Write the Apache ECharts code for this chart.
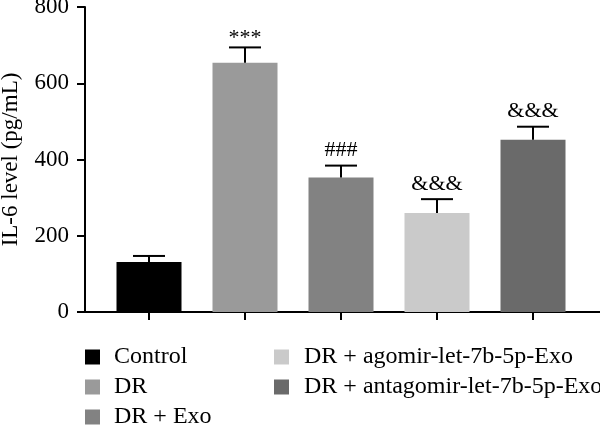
<!DOCTYPE html>
<html>
<head>
<meta charset="utf-8">
<title>IL-6 level</title>
<script type="text/javascript" src="https://cdn.jsdelivr.net/npm/echarts@6/dist/echarts.min.js"></script>
<style>
  html, body { margin: 0; padding: 0; background: #fff; }
</style>
</head>
<body>
<div id="main" style="width: 600px; height: 425px;"></div>
<script type="text/javascript">
// groups, mean values, upper error values, significance marks
var groups = ['Control', 'DR', 'DR + Exo', 'DR + agomir-let-7b-5p-Exo', 'DR + antagomir-let-7b-5p-Exo'];
var means = [131, 654, 353, 260, 452];
var uppers = [147, 694, 384, 296, 486];
var marks = ['', '***', '###', '&&&', '&&&'];
var colors = ['#000000', '#9a9a9a', '#828282', '#cacaca', '#6a6a6a'];
var yTicks = [0, 200, 400, 600, 800];

var FONT = '"Liberation Serif", "Times New Roman", serif';
var myChart = echarts.init(document.getElementById('main'));

// one series per group so the legend can list them, overlapped with barGap -100%
var series = groups.map(function (name, i) {
  var d = groups.map(function (g, j) { return j === i ? means[j] : '-'; });
  return {
    name: name,
    type: 'bar',
    xAxisIndex: 1,
    yAxisIndex: 1,
    data: d,
    barWidth: 65,
    barGap: '-100%',
    itemStyle: { color: colors[i] },
    z: 2
  };
});

// error bars (upper only) + significance text
series.push({
  type: 'custom',
  xAxisIndex: 1,
  yAxisIndex: 1,
  z: 3,
  data: groups.map(function (g, i) { return [i, means[i], uppers[i]]; }),
  renderItem: function (params, api) {
    var i = api.value(0);
    var top = api.coord([i, api.value(2)]);
    var base = api.coord([i, api.value(1)]);
    var half = 16;
    var style = { stroke: '#000', lineWidth: 2 };
    var children = [
      { type: 'line', shape: { x1: top[0], y1: top[1], x2: base[0], y2: base[1] }, style: style },
      { type: 'line', shape: { x1: top[0] - half, y1: top[1], x2: top[0] + half, y2: top[1] }, style: style }
    ];
    var m = marks[i];
    if (m) {
      children.push({
        type: 'text',
        style: {
          text: m,
          x: top[0],
          y: top[1] - (m === '***' ? -2 : 4),
          align: 'center',
          verticalAlign: 'bottom',
          font: '22px ' + FONT,
          fill: '#000'
        }
      });
    }
    return { type: 'group', children: children };
  }
});

var legendBase = {
  orient: 'vertical',
  top: 345,
  height: 90,
  padding: 0,
  icon: 'rect',
  itemWidth: 15,
  itemHeight: 15,
  itemGap: 6
};

var option = {
  animation: false,
  legend: [
    Object.assign({}, legendBase, {
      data: groups.slice(0, 3),
      left: 85,
      textStyle: { fontFamily: FONT, fontSize: 24, color: '#000', padding: [0, 0, 0, 9] }
    }),
    Object.assign({}, legendBase, {
      data: groups.slice(3),
      left: 274,
      textStyle: { fontFamily: FONT, fontSize: 24, color: '#000', padding: [0, 0, 0, 10] }
    })
  ],
  grid: [
    { left: 85, right: 0, top: 7, bottom: 113, outerBoundsMode: 'none', containLabel: false },
    { left: 101, width: 480, top: 7, bottom: 113, outerBoundsMode: 'none', containLabel: false }
  ],
  xAxis: [{
    gridIndex: 0,
    type: 'value',
    min: 0,
    max: 1,
    axisLine: { show: true, onZero: false, lineStyle: { color: '#000', width: 2 } },
    axisTick: { show: false },
    axisLabel: { show: false },
    splitLine: { show: false }
  }, {
    gridIndex: 1,
    type: 'category',
    data: groups,
    axisLine: { show: false },
    axisTick: { show: true, interval: 0, alignWithLabel: true, length: 8, lineStyle: { color: '#000', width: 2 } },
    axisLabel: { show: false, interval: 0 },
    splitLine: { show: false }
  }],
  yAxis: [{
    gridIndex: 0,
    type: 'value',
    min: yTicks[0],
    max: yTicks[yTicks.length - 1],
    interval: 200,
    name: 'IL-6 level (pg/mL)',
    nameLocation: 'middle',
    nameGap: 63,
    nameTextStyle: { fontFamily: FONT, fontSize: 23, color: '#000' },
    axisLine: { show: true, lineStyle: { color: '#000', width: 2 } },
    axisTick: { show: true, length: 8, lineStyle: { color: '#000', width: 2 } },
    axisLabel: { fontFamily: FONT, fontSize: 23, color: '#000', margin: 16 },
    splitLine: { show: false }
  }, {
    gridIndex: 1,
    type: 'value',
    min: yTicks[0],
    max: yTicks[yTicks.length - 1],
    interval: 200,
    show: false
  }],
  series: series
};

myChart.setOption(option);
</script>
</body>
</html>
